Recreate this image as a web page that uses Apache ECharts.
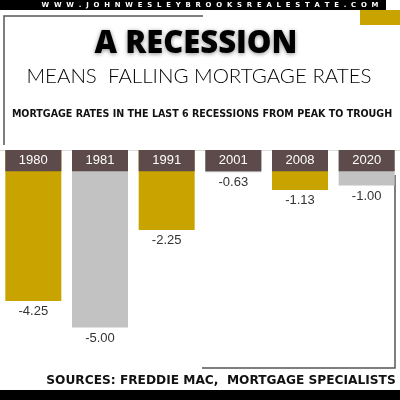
<!DOCTYPE html>
<html><head><meta charset="utf-8">
<script src="https://cdn.jsdelivr.net/npm/echarts@6/dist/echarts.min.js"></script>
<style>html,body{margin:0;padding:0;background:#fff}#c{width:400px;height:400px}</style>
</head><body><div id="c"></div>
<script>
var categories = ['1980', '1981', '1991', '2001', '2008', '2020'];
var rateChange = [-4.25, -5.00, -2.25, -0.63, -1.13, -1.00];
var headerDepth = [-0.6, -0.6, -0.6, -0.6, -0.6, -0.6];
var barColors = ['#C9A300', '#C2C2C2', '#C9A300', '#C2C2C2', '#C9A300', '#C2C2C2'];
var websiteText = 'W  W  W  .  J  O  H  N  W  E  S  L  E  Y  B  R  O  O  K  S  R  E  A  L  E  S  T  A  T  E  .  C  O  M';
var titleText = 'A RECESSION';
var subTitleText = 'MEANS  FALLING MORTGAGE RATES';
var chartTitleText = 'MORTGAGE RATES IN THE LAST 6 RECESSIONS FROM PEAK TO TROUGH';
var sourceText = 'SOURCES: FREDDIE MAC,  MORTGAGE SPECIALISTS';

var chart = echarts.init(document.getElementById('c'), null, {renderer: 'canvas'});
var option = {
  animation: false,
  backgroundColor: '#fff',
  grid: {left: 0, right: 0, top: 150, bottom: 37},
  xAxis: {
    type: 'category', data: categories,
    axisLine: {show: true, onZero: true, lineStyle: {color: '#dcdcdc', width: 1}},
    axisTick: {show: false}, axisLabel: {show: false}
  },
  yAxis: {type: 'value', min: -6, max: 0, show: false, splitLine: {show: false}},
  series: [
    {
      type: 'bar', data: rateChange.map(function (v, i) { return {value: v, itemStyle: {color: barColors[i]}}; }),
      barWidth: 56, z: 2,
      label: {show: true, position: 'bottom', distance: 4, color: '#333', fontSize: 13,
        fontFamily: 'Liberation Sans', formatter: function (p) { return p.value.toFixed(2); }}
    },
    {
      type: 'bar', data: headerDepth, barWidth: 56, barGap: '-100%', z: 3,
      itemStyle: {color: '#5D4A4A'},
      label: {show: true, position: 'inside', color: '#fff', fontSize: 13, fontFamily: 'Liberation Sans',
        formatter: function (p) { return p.name; }}
    }
  ],
  graphic: [
    {type: 'rect', shape: {x: 0, y: 0, width: 386, height: 10}, style: {fill: '#000'}},
    {type: 'rect', shape: {x: 360, y: 10, width: 40, height: 15}, style: {fill: '#C9A300'}},
    {type: 'text', x: 210, y: 5, style: {text: websiteText, fill: '#fff', font: 'bold 6.9px "DejaVu Sans"', textAlign: 'center', textVerticalAlign: 'middle'}},
    {type: 'polyline', shape: {points: [[4, 145], [4, 16], [203, 16]]}, style: {stroke: '#555', lineWidth: 1.5, fill: null}},
    {type: 'polyline', shape: {points: [[395, 175], [395, 368], [202, 368]]}, style: {stroke: '#555', lineWidth: 1.5, fill: null}},
    {type: 'text', x: 196, y: 44, style: {text: titleText, fill: '#000', font: '800 31px "Open Sans"', textAlign: 'center', textVerticalAlign: 'middle', textShadowBlur: 4, textShadowColor: 'rgba(0,0,0,0.45)', textShadowOffsetY: 1}},
    {type: 'text', x: 199, y: 76, style: {text: subTitleText, fill: '#000', font: '300 20.5px Lato', textAlign: 'center', textVerticalAlign: 'middle'}},
    {type: 'text', x: 202, y: 114, style: {text: chartTitleText, fill: '#111', font: 'bold 10.6px "DejaVu Sans Condensed"', textAlign: 'center', textVerticalAlign: 'middle'}},
    {type: 'text', x: 221, y: 381, style: {text: sourceText, fill: '#111', font: 'bold 12.2px "DejaVu Sans"', textAlign: 'center', textVerticalAlign: 'middle'}},
    {type: 'rect', shape: {x: 0, y: 390, width: 400, height: 10}, style: {fill: '#000'}}
  ]
};
chart.setOption(option);
</script></body></html>
